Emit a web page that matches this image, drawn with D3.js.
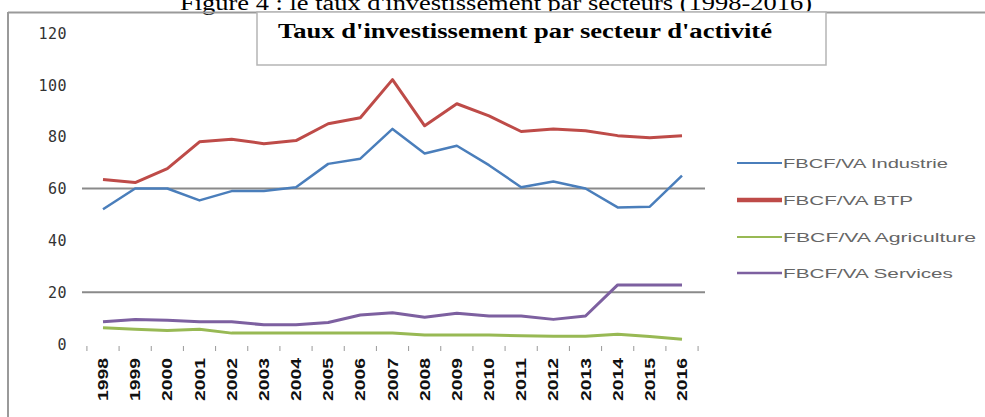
<!DOCTYPE html>
<html><head><meta charset="utf-8">
<script src="https://cdn.jsdelivr.net/npm/d3@7"></script>
<style>body{margin:0;background:#fff;overflow:hidden}svg{display:block}</style>
</head><body>
<svg id="c" width="985" height="417"></svg>
<script>
const years = [1998,1999,2000,2001,2002,2003,2004,2005,2006,2007,2008,2009,2010,2011,2012,2013,2014,2015,2016];
const industrie   = [52,60,60,55.4,59,59,60.5,69.5,71.5,83,73.5,76.5,69,60.5,62.7,60,52.7,53,65];
const btp         = [63.5,62.3,67.7,78,79,77.3,78.5,85,87.3,102,84.2,92.7,88,82,83,82.3,80.4,79.6,80.4];
const agriculture = [6.3,5.7,5.2,5.7,4.2,4.2,4.2,4.2,4.2,4.2,3.5,3.5,3.5,3.2,3.0,3.0,3.8,2.9,1.8];
const services    = [8.6,9.5,9.2,8.6,8.6,7.4,7.4,8.3,11.2,12.1,10.3,11.9,10.8,10.8,9.5,10.8,22.8,22.8,22.8];
const yTicks = [0,20,40,60,80,100,120];
const gridValues = [20,60];
const seriesNames = ["FBCF/VA Industrie","FBCF/VA BTP","FBCF/VA Agriculture","FBCF/VA Services"];
const seriesColors = ["#4a7ebb","#be4b48","#98b954","#7d60a0"];
const seriesWidths = [2.5,3,3,3];
const legendWidths = [2,4.5,2,2.5];
const chartTitle = "Taux d'investissement par secteur d'activité";
const caption = "Figure 4 : le taux d'investissement par secteurs (1998-2016)";

const svg = d3.select("#c");
const x = d3.scalePoint().domain(years).range([103, 682]);
const y = d3.scaleLinear().domain([0,120]).range([344, 33]);
const step = x.step();

// caption
svg.append("text").attr("x",180).attr("y",10).attr("textLength",632).attr("lengthAdjust","spacingAndGlyphs")
  .attr("font-family","Liberation Serif").attr("font-size",20).attr("fill","#000").text(caption);

// frame
svg.append("line").attr("x1",8).attr("x2",985).attr("y1",12.5).attr("y2",12.5).attr("stroke","#9a9a9a").attr("stroke-width",2);
svg.append("line").attr("x1",8).attr("x2",8).attr("y1",12).attr("y2",417).attr("stroke","#9a9a9a").attr("stroke-width",2);

// gridlines
svg.selectAll(".grid").data(gridValues).join("line")
  .attr("x1",82).attr("x2",705).attr("y1",d=>y(d)).attr("y2",d=>y(d))
  .attr("stroke","#8a8a8a").attr("stroke-width",2);

// y axis labels
const yAxis = d3.axisLeft(y).tickValues(yTicks).tickSize(0).tickPadding(0);
const gy = svg.append("g").attr("transform","translate(67,0)").call(yAxis);
gy.select(".domain").remove();
gy.selectAll("text").attr("font-family","DejaVu Sans Mono").attr("font-size",15).attr("fill","#333")
  .attr("letter-spacing","0.5px").attr("dy","0.35em");

// x ticks at category boundaries
const bounds = years.map(d=>x(d)-step/2).concat([x(years[years.length-1])+step/2]);
svg.selectAll(".xt").data(bounds).join("line")
  .attr("x1",d=>d).attr("x2",d=>d).attr("y1",346).attr("y2",351)
  .attr("stroke","#999").attr("stroke-width",1);

// x labels (rotated)
svg.selectAll(".xl").data(years).join("text")
  .attr("transform",d=>`translate(${x(d)+5},401) rotate(-90)`)
  .attr("textLength",43).attr("lengthAdjust","spacingAndGlyphs")
  .attr("font-family","Liberation Sans").attr("font-weight","bold").attr("font-size",14).attr("fill","#111")
  .text(d=>d);

// lines
const all = [industrie, btp, agriculture, services];
const line = d3.line().x((d,i)=>x(years[i])).y(d=>y(d));
[2,3,0,1].forEach(k=>{
  svg.append("path").datum(all[k]).attr("d",line).attr("fill","none")
    .attr("stroke",seriesColors[k]).attr("stroke-width",seriesWidths[k]).attr("stroke-linejoin","round");
});

// title box
svg.append("rect").attr("x",257).attr("y",12).attr("width",569).attr("height",53)
  .attr("fill","#fff").attr("stroke","#b5b5b5").attr("stroke-width",1.5);
svg.append("text").attr("x",278).attr("y",38).attr("textLength",494).attr("lengthAdjust","spacingAndGlyphs")
  .attr("font-family","Liberation Serif").attr("font-weight","bold").attr("font-size",20).attr("fill","#000")
  .text(chartTitle);

// legend
const legendY = [163,200,237,273];
const lg = svg.selectAll(".lg").data(seriesNames).join("g").attr("transform",(d,i)=>`translate(737,${legendY[i]})`);
lg.append("line").attr("x1",0).attr("x2",45).attr("y1",0).attr("y2",0)
  .attr("stroke",(d,i)=>seriesColors[i]).attr("stroke-width",(d,i)=>legendWidths[i]);
lg.append("text").attr("x",46).attr("y",0).attr("dy","0.35em")
  .attr("textLength",(d,i)=>[165,130,193,170][i]).attr("lengthAdjust","spacingAndGlyphs")
  .attr("font-family","Liberation Sans").attr("font-size",13).attr("fill","#666").text(d=>d);
</script>
</body></html>
